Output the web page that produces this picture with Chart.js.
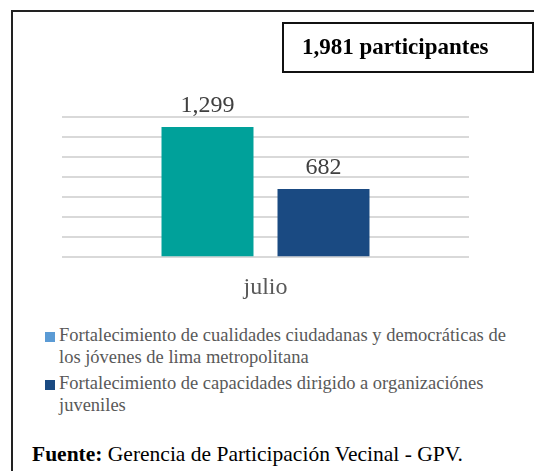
<!DOCTYPE html>
<html>
<head>
<meta charset="utf-8">
<script src="https://cdn.jsdelivr.net/npm/chart.js@4"></script>
<style>
  body { margin: 0; background: #fff; }
  #frame { position: absolute; left: 11px; top: 10px; width: 560px; height: 500px; border: 2px solid #222; box-sizing: border-box; }
  #total { position: absolute; left: 282px; top: 22px; width: 252px; height: 51px; border: 2px solid #111; box-sizing: border-box;
    font: bold 23px "Liberation Serif", serif; color: #000; padding-left: 18px; line-height: 46px; }
  #wrap { position: absolute; left: 0; top: 0; width: 534px; height: 318px; }
  #legend { position: absolute; left: 45px; top: 325px; width: 475px; font: 18.5px "Liberation Serif", serif; color: #595959; }
  #legend .item { position: relative; padding-left: 14px; line-height: 21.7px; margin-bottom: 4.5px; }
  #legend .sw { position: absolute; left: 0; top: 7px; width: 10px; height: 10px; }
  #source { position: absolute; left: 32px; top: 442px; font: 21.5px "Liberation Serif", serif; line-height: 24px; color: #000; white-space: nowrap; }
</style>
</head>
<body>
<div id="frame"></div>
<div id="wrap"><canvas id="chart" width="534" height="318"></canvas></div>
<div id="total">1,981 participantes</div>
<div id="legend"></div>
<div id="source"><b>Fuente:</b> Gerencia de Participación Vecinal - GPV.</div>
<script>
// Data
const categories = ['julio'];
const seriesNames = [
  'Fortalecimiento de cualidades ciudadanas y democráticas de los jóvenes de lima metropolitana',
  'Fortalecimiento de capacidades dirigido a organizaciónes juveniles'
];
const cualidades = [1299];
const capacidades = [682];

const barColors = ['#00a19a', '#1a4a82'];
const legendColors = ['#5b9bd5', '#1a4a82'];

// value labels above bars
const valueLabels = {
  id: 'valueLabels',
  afterDatasetsDraw(chart) {
    const ctx = chart.ctx;
    ctx.save();
    ctx.font = '24px "Liberation Serif", serif';
    ctx.fillStyle = '#404040';
    ctx.textAlign = 'center';
    ctx.textBaseline = 'alphabetic';
    chart.data.datasets.forEach((ds, i) => {
      chart.getDatasetMeta(i).data.forEach((bar, j) => {
        ctx.fillText(ds.data[j].toLocaleString('en-US'), bar.x, bar.y - 15);
      });
    });
    ctx.restore();
  }
};

new Chart(document.getElementById('chart'), {
  type: 'bar',
  data: {
    labels: categories,
    datasets: [
      { label: seriesNames[0], data: cualidades, backgroundColor: barColors[0] },
      { label: seriesNames[1], data: capacidades, backgroundColor: barColors[1] }
    ]
  },
  options: {
    responsive: false,
    animation: false,
    categoryPercentage: 0.57,
    barPercentage: 0.793,
    layout: { padding: { left: 62, right: 65, top: 117, bottom: 0 } },
    plugins: { legend: { display: false }, tooltip: { enabled: false } },
    scales: {
      x: {
        grid: { display: false, drawTicks: false },
        border: { display: false },
        ticks: { color: '#595959', font: { family: 'Liberation Serif', size: 24 }, padding: 16 }
      },
      y: {
        min: 0, max: 1400,
        ticks: { stepSize: 200, display: false },
        grid: { color: '#d9d9d9', lineWidth: 2, drawTicks: false },
        border: { display: false }
      }
    }
  },
  plugins: [valueLabels]
});

// legend from series
const legend = document.getElementById('legend');
seriesNames.forEach((name, i) => {
  const item = document.createElement('div');
  item.className = 'item';
  item.innerHTML = '<span class="sw" style="background:' + legendColors[i] + '"></span>' + name;
  legend.appendChild(item);
});
</script>
</body>
</html>
